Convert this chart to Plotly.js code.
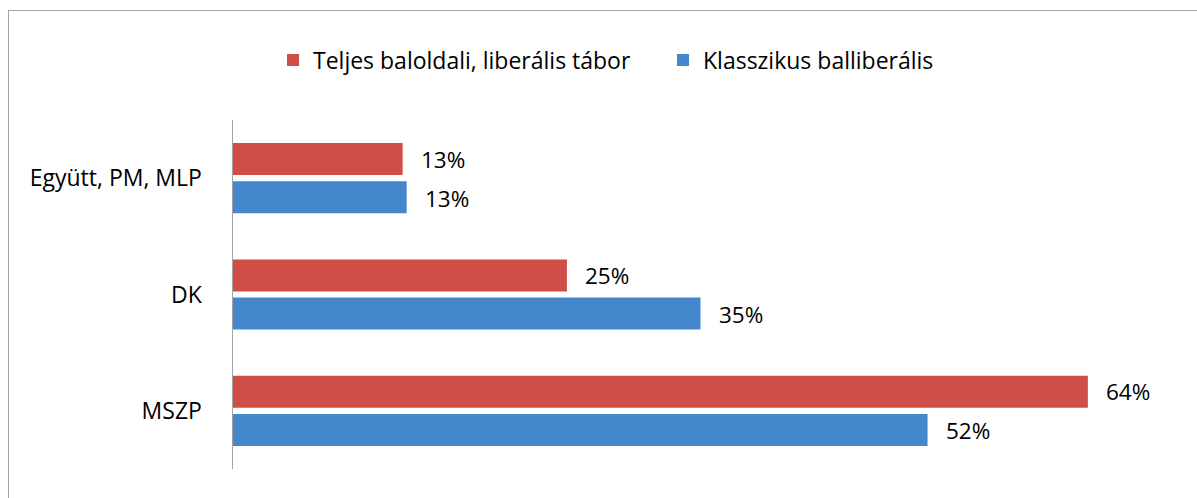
<!DOCTYPE html>
<html>
<head>
<meta charset="utf-8">
<script src="https://cdn.plot.ly/plotly-3.0.1.min.js"></script>
<style>
  html, body { margin: 0; padding: 0; background: #fff; }
  #chart { position: absolute; left: 0; top: 0; width: 1197px; height: 498px; }
  #frame { position: absolute; left: 8px; top: 10px; right: 0; bottom: -5px;
           border-left: 1.5px solid #A3A3A3; border-top: 1.5px solid #A3A3A3;
           pointer-events: none; }
</style>
</head>
<body>
<div id="chart"></div>
<div id="frame"></div>
<script>
const categories = ["Együtt, PM, MLP", "DK", "MSZP"];
const seriesNames = ["Teljes baloldali, liberális tábor", "Klasszikus balliberális"];
const teljesValues = [12.7, 25, 64];
const klasszikusValues = [13, 35, 52];

const FONT = "'Open Sans', Lato, sans-serif";
const colors = ["#D04E47", "#4587CC"];

const traces = [
  { type: "bar", orientation: "h", name: seriesNames[0], y: categories, x: teljesValues,
    marker: { color: colors[0] }, hoverinfo: "skip" },
  { type: "bar", orientation: "h", name: seriesNames[1], y: categories, x: klasszikusValues,
    marker: { color: colors[1] }, hoverinfo: "skip" }
];

const annotations = [];
[teljesValues, klasszikusValues].forEach((vals, si) => {
  vals.forEach((v, i) => {
    annotations.push({
      x: v, y: categories[i], xref: "x", yref: "y",
      text: Math.round(v) + "%", showarrow: false,
      xanchor: "left", yanchor: "middle",
      xshift: 16, yshift: si === 0 ? 19 : -20,
      font: { family: FONT, size: 22.5, color: "#000" }
    });
  });
});

const layout = {
  width: 1197, height: 498,
  paper_bgcolor: "#fff", plot_bgcolor: "#fff",
  margin: { l: 233, r: 29, t: 120, b: 29 },
  barmode: "group", bargap: 0.345, bargroupgap: 0.16,
  showlegend: true,
  legend: {
    orientation: "h", xref: "paper", yref: "paper",
    font: { family: FONT, size: 23, color: "#000" },
    traceorder: "normal", entrywidth: 345, entrywidthmode: "pixels"
  },
  xaxis: { range: [0, 70], showgrid: false, zeroline: false, showline: false,
           showticklabels: false, ticks: "" },
  yaxis: { autorange: "reversed", showgrid: false, zeroline: false,
           showline: true, linecolor: "#A3A3A3", linewidth: 1.5, ticks: "",
           ticklabelstandoff: 25,
           tickfont: { family: FONT, size: 23, color: "#000" } },
  annotations: annotations
};
layout.legend.x = (273 - 233) / (1197 - 233 - 29);
layout.legend.y = 1 + (120 - 60) / (498 - 120 - 29);
layout.legend.xanchor = "left";
layout.legend.yanchor = "middle";

Plotly.newPlot("chart", traces, layout, { displayModeBar: false, staticPlot: true });
</script>
</body>
</html>
